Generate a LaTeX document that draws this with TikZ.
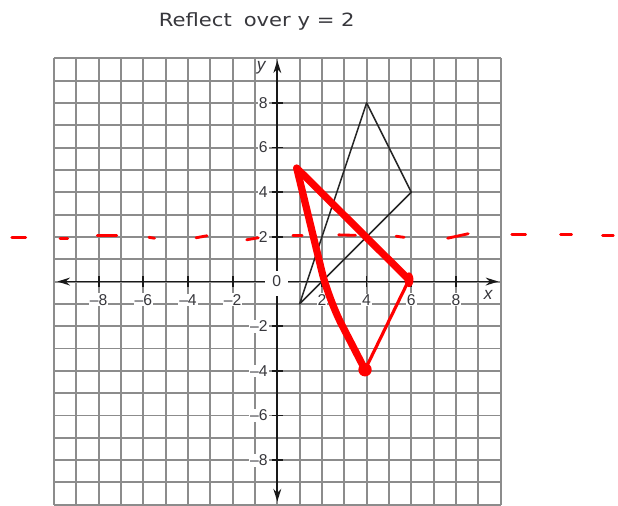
\documentclass[tikz,border=0pt]{standalone}
\usepackage{fontspec}
\setmainfont{DejaVu Sans}
\newfontfamily\lblfont{Liberation Sans}
\usetikzlibrary{arrows.meta}
\definecolor{gridgray}{RGB}{140,140,140}
\definecolor{txtgray}{RGB}{55,55,60}
\definecolor{penred}{RGB}{255,0,0}
\begin{document}
\begin{tikzpicture}[x=0.5cm,y=0.5cm,
  gridline/.style={draw=gridgray,line width=1.25pt},
  axisline/.style={draw=black!90,line width=1.1pt},
  axisarrow/.style={axisline,-{Stealth[length=8pt,width=5pt]}},
  tickline/.style={draw=black!90,line width=1.1pt},
  lbl/.style={font=\lblfont\fontsize{10}{10}\selectfont,text=txtgray,inner sep=0.6pt,fill=white},
  axlbl/.style={font=\lblfont\itshape\fontsize{11}{11}\selectfont,text=txtgray,inner sep=0pt},
  titlestyle/.style={font=\fontsize{11.6}{12}\selectfont,text=txtgray,inner sep=0pt},
  blacktri/.style={draw=black!85,line width=1pt,line join=round},
  redthick/.style={draw=penred,line width=4.6pt,line cap=round,line join=round},
  redthin/.style={draw=penred,line width=2pt,line cap=round},
  reddash/.style={draw=penred,line width=1.8pt,line cap=round}
]
\useasboundingbox (-12.42,-10.04) rectangle (15.26,12.61);
% grid
\draw[gridline,step=0.5cm] (-10,-10) grid (10,10);
% axes
\coordinate (O) at (0,0);
\coordinate (XL) at (-9.85,0);
\coordinate (XR) at (9.9,0);
\coordinate (YT) at (0,9.9);
\coordinate (YB) at (0,-9.85);
\draw[axisarrow] (O) -- (XL);
\draw[axisarrow] (O) -- (XR);
\draw[axisarrow] (O) -- (YT);
\draw[axisarrow] (O) -- (YB);
\foreach \t in {-8,-6,-4,-2,2,4,6,8}{
  \draw[tickline] (\t,-0.25) -- (\t,0.25);
  \draw[tickline] (-0.25,\t) -- (0.25,\t);
}
% labels
\foreach \t/\s in {-8/–8,-6/–6,-4/–4,-2/–2,2/2,4/4,6/6,8/8}{
  \node[lbl] (xl\t) at (\t,-0.82) {\s};
  \node[lbl,anchor=east] (yl\t) at (-0.38,\t) {\s};
}
\fill[white] (-0.55,-0.65) rectangle (0.5,0.45);
\node[lbl,fill=none] (zero) at (-0.03,0) {0};
\node[axlbl] (xname) at (9.44,-0.62) {x};
\node[axlbl] (yname) at (-0.72,9.56) {y};
% black triangle
\coordinate (A) at (1,-1);
\coordinate (B) at (4,8);
\coordinate (C) at (6,4);
\draw[blacktri] (A) -- (B) -- (C) -- cycle;
% red dashed line y = 2
\draw[reddash] (-11.89,1.99) -- (-11.27,1.99);
\draw[reddash] (-9.73,1.94) -- (-9.39,1.94);
\draw[reddash] (-8.06,2.06) -- (-7.19,2.06);
\draw[reddash] (-5.75,1.98) -- (-5.5,1.94);
\draw[reddash] (-3.64,1.96) -- (-3.15,2.05);
\draw[reddash] (-1.37,1.87) -- (-0.85,1.96);
\draw[reddash] (0.70,2.06) -- (1.11,2.06);
\draw[reddash] (2.75,2.09) -- (3.5,2.07);
\draw[reddash] (5.32,2.03) -- (5.68,1.98);
\draw[reddash] (7.63,1.94) -- (8.55,2.14);
\draw[reddash] (10.5,2.12) -- (11.12,2.12);
\draw[reddash] (12.69,2.09) -- (13.18,2.09);
\draw[reddash] (14.57,2.05) -- (15.05,2.05);
% red triangle
\coordinate (P) at (0.87,5.08);
\coordinate (Q) at (5.9,0.08);
\coordinate (R) at (3.93,-3.95);
\coordinate (M) at (2.3,-0.8);
\draw[redthin] (R) -- (Q);
\draw[redthick] (Q) -- (P);
\draw[redthick,rounded corners=18pt] (P) -- (M) -- (R);
\fill[penred] (R) circle (0.3);
\fill[penred] (Q) ellipse (0.2 and 0.33);
% title
\node[titlestyle] (title) at (-0.92,11.65) {\scalebox{1.16}[1]{Reflect\hspace{0.25em} over y = 2}};
\end{tikzpicture}
\end{document}
